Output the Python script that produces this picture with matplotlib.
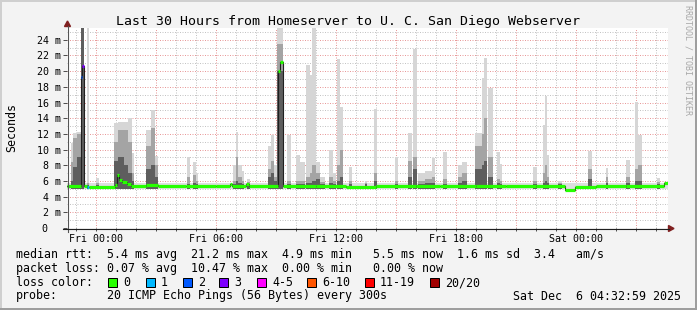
import matplotlib
matplotlib.use("Agg")
import matplotlib.pyplot as plt
import numpy as np
from matplotlib.lines import Line2D
from matplotlib.patches import Rectangle, Polygon
import matplotlib.transforms as mtrans

# ---------------- data (hours relative to Fri 00:00, values in ms) -------------
T_START, T_END = -1.45, 28.6
Y_MAX = 25.5

SMOKE_LO = 5.0          # lower edge of the smoke
BASE_SMOKE_HI = 5.75    # upper edge of the everyday smoke band

smoke_start_h = [-1.25, -1.15, -0.95, -0.775, -0.45, 0.0, 0.9, 1.1, 1.4, 1.6, 1.8,
                 2.5, 2.75, 2.95, 4.55, 4.85, 5.0, 6.85, 7.0, 7.075, 7.3, 7.55,
                 8.6, 8.75, 8.9, 9.05, 9.55, 10.0, 10.2, 10.5, 10.7, 10.8, 11.0,
                 11.2, 11.65, 11.85, 12.05, 12.2, 12.65, 13.45, 13.9, 14.95, 15.6,
                 15.85, 16.1, 16.45, 16.8, 17.35, 18.1, 18.3, 18.95, 19.3, 19.4,
                 19.6, 20.05, 20.2, 21.85, 22.35, 22.45, 22.55, 23.1, 24.6, 25.5,
                 26.5, 26.95, 27.1, 28.05]
smoke_end_h = [-1.15, -0.95, -0.775, -0.6, -0.35, 0.15, 1.1, 1.4, 1.6, 1.8, 1.9,
               2.75, 2.95, 3.1, 4.7, 5.0, 5.1, 7.0, 7.075, 7.3, 7.4, 7.7,
               8.75, 8.9, 9.05, 9.325, 9.75, 10.2, 10.45, 10.7, 10.8, 11.0, 11.2,
               11.45, 11.85, 12.0, 12.2, 12.35, 12.8, 13.55, 14.05, 15.1, 15.8,
               16.05, 16.45, 16.8, 16.95, 17.55, 18.3, 18.55, 19.3, 19.4, 19.55,
               19.85, 20.2, 20.3, 22.05, 22.45, 22.55, 22.65, 23.3, 24.8, 25.6,
               26.7, 27.1, 27.3, 28.2]
smoke_outer_ms = [10.8, 12.1, 12.3, 25.6, 25.6, 6.4, 13.4, 13.5, 13.5, 14.0, 9.5,
                  12.5, 15.1, 9.2, 9.1, 8.4, 7.0, 8.0, 12.3, 8.0, 7.3, 6.2,
                  10.5, 11.9, 8.0, 25.6, 11.9, 9.3, 8.4, 20.8, 19.5, 25.6, 8.4,
                  6.5, 10.0, 7.0, 21.5, 15.4, 7.8, 6.0, 15.2, 9.1, 12.1,
                  22.8, 7.0, 7.3, 8.9, 9.7, 8.0, 8.4, 12.1, 19.1, 21.7,
                  17.9, 9.7, 8.1, 7.8, 13.1, 16.8, 9.3, 6.0, 9.8, 7.7,
                  8.7, 16.1, 11.9, 6.4]
smoke_mid_ms = [8.4, 11.5, 12.0, 25.6, 5.8, 5.8, 11.0, 12.5, 12.5, 11.0, 7.0,
                10.5, 12.8, 8.0, 6.5, 6.8, 6.0, 6.0, 9.0, 6.5, 6.0, 5.9,
                7.5, 8.5, 6.5, 23.5, 6.0, 6.0, 6.0, 6.5, 7.0, 8.0, 7.0,
                5.9, 6.5, 6.0, 8.0, 10.0, 6.0, 5.8, 7.0, 6.0, 8.5,
                9.0, 6.0, 6.2, 6.5, 6.2, 6.5, 7.0, 10.5, 12.0, 14.0,
                9.0, 6.2, 6.0, 6.0, 7.0, 8.0, 6.5, 5.8, 7.5, 6.5,
                6.5, 7.5, 8.0, 5.9]
smoke_dark_ms = [6.0, 7.8, 9.0, 25.6, 5.5, 5.5, 8.5, 9.0, 8.0, 7.0, 6.0,
                 7.5, 8.0, 6.5, 5.6, 5.8, 5.6, 5.6, 6.0, 5.8, 5.6, 5.6,
                 6.5, 7.0, 6.0, 20.0, 5.6, 5.6, 5.6, 5.8, 5.8, 6.0, 6.3,
                 5.6, 5.8, 5.6, 6.0, 6.5, 5.6, 5.6, 6.0, 5.6, 6.5,
                 7.5, 5.6, 5.7, 5.8, 5.6, 5.8, 6.0, 7.5, 8.0, 8.5,
                 6.5, 5.7, 5.6, 5.6, 5.8, 6.0, 5.8, 5.6, 6.2, 5.8,
                 5.8, 6.0, 6.0, 5.6]

median_start_h = [-1.45, -0.775, -0.683, -0.6, -0.45, -0.367, 0.95, 1.05, 1.15,
                  1.3, 1.55, 1.75, 2.5, 3.1, 4.5, 6.0, 6.7, 6.8, 7.5, 7.65,
                  9.083, 9.2, 9.325, 11.0, 12.5, 14.0, 16.0, 17.2, 19.0, 20.5,
                  22.0, 23.45, 23.95, 25.0, 26.5, 28.4]
median_ms = [5.3, 19.3, 20.7, 5.3, 5.2, 5.25, 5.5, 6.7, 6.1,
             5.9, 5.6, 5.3, 5.45, 5.3, 5.35, 5.3, 5.55, 5.3, 5.6, 5.3,
             20.0, 21.2, 5.3, 5.35, 5.25, 5.35, 5.3, 5.4, 5.35, 5.3,
             5.35, 4.9, 5.25, 5.3, 5.35, 5.7]
median_loss = [0, 2, 3, 0, 1, 0, 0, 0, 0,
               0, 0, 0, 0, 0, 0, 0, 0, 0, 0, 0,
               0, 0, 0, 0, 0, 0, 0, 0, 0, 0,
               0, 0, 0, 0, 0, 0]

loss_colors = ['#26ff00', '#00b8ff', '#0059ff', '#7e00ff', '#ff00ff',
               '#ff5500', '#ff0000', '#a10000']
loss_labels = ['0', '1', '2', '3', '4-5', '6-10', '11-19', '20/20']

x_tick_hours = [0, 6, 12, 18, 24]
x_tick_labels = ['Fri 00:00', 'Fri 06:00', 'Fri 12:00', 'Fri 18:00', 'Sat 00:00']
y_tick_values = [0, 2, 4, 6, 8, 10, 12, 14, 16, 18, 20, 22, 24]

title = "Last 30 Hours from Homeserver to U. C. San Diego Webserver"
legend_lines = [
    "median rtt:  5.4 ms avg  21.2 ms max  4.9 ms min   5.5 ms now  1.6 ms sd  3.4   am/s",
    "packet loss: 0.07 % avg  10.47 % max  0.00 % min   0.00 % now",
]
probe_text = "20 ICMP Echo Pings (56 Bytes) every 300s"
stamp_text = "Sat Dec  6 04:32:59 2025"

# ---------------- figure -------------------------------------------------------
W, H = 697, 310
MONO = 'DejaVu Sans Mono'
fig = plt.figure(figsize=(W / 100, H / 100), dpi=100)
fig.patch.set_facecolor('#f3f3f3')


def fx(px):
    return px / W


def fy(py):
    return 1 - py / H


AX_L, AX_R, AX_T, AX_B = 67, 668, 28, 228
ax = fig.add_axes([fx(AX_L), fy(AX_B), fx(AX_R) - fx(AX_L), fy(AX_T) - fy(AX_B)])
ax.set_facecolor('white')
ax.set_xlim(T_START, T_END)
ax.set_ylim(0, Y_MAX)
for s in ax.spines.values():
    s.set_visible(False)

# grid
dot = (0, (1, 1.5))
for h in range(-1, 29):
    if h % 3 == 0:
        ax.axvline(h, color='#e89a9a', lw=0.72, ls=dot, zorder=0.5)
    else:
        ax.axvline(h, color='#c4c4c4', lw=0.72, ls=dot, zorder=0.5)
for v in range(1, 26):
    if v % 2 == 0:
        ax.axhline(v, color='#e89a9a', lw=0.72, ls=dot, zorder=0.5)
    else:
        ax.axhline(v, color='#c4c4c4', lw=0.72, ls=dot, zorder=0.5)

# everyday smoke band
ax.fill_between([T_START, T_END], SMOKE_LO, BASE_SMOKE_HI, color='#dedede',
                lw=0, zorder=1)

# smoke events
st = np.array(smoke_start_h)
en = np.array(smoke_end_h)
wd = en - st
ax.bar(st, np.array(smoke_outer_ms) - SMOKE_LO, bottom=SMOKE_LO, width=wd,
       align='edge', color='#d6d6d6', lw=0, zorder=1.2)
ax.bar(st, np.array(smoke_mid_ms) - SMOKE_LO, bottom=SMOKE_LO, width=wd,
       align='edge', color='#a4a4a4', lw=0, zorder=1.3)
ax.bar(st, np.array(smoke_dark_ms) - SMOKE_LO, bottom=SMOKE_LO, width=wd,
       align='edge', color='#5e5e5e', lw=0, zorder=1.4)

# median line
ms_ = np.array(median_start_h)
me_ = np.append(ms_[1:], T_END)
mv = np.array(median_ms)
ax.step(np.append(ms_, T_END), np.append(mv, mv[-1]), where='post',
        color='#202020', lw=0.8, zorder=4)
ax.hlines(mv, ms_, me_, colors=[loss_colors[l] for l in median_loss],
          lw=2.3, zorder=5, capstyle='butt')

# ticks
ax.set_xticks(np.arange(-1, 29, 1))
ax.set_yticks(y_tick_values)
ax.tick_params(axis='x', direction='out', length=2.2, width=0.72,
               color='#505050', labelbottom=False)
ax.tick_params(axis='y', direction='out', length=2.9, width=0.72,
               color='#505050', labelleft=False)

# tick labels
xtr = mtrans.blended_transform_factory(ax.transData, fig.transFigure)
for h, lab in zip(x_tick_hours, x_tick_labels):
    ax.text(h, fy(241.5), lab, transform=xtr, ha='center', va='baseline',
            fontsize=7.2, family=MONO)
ytr = mtrans.blended_transform_factory(fig.transFigure, ax.transData)
for v in y_tick_values:
    if v == 0:
        ax.text(fx(47.5), v, "0", transform=ytr, ha='right', va='center_baseline',
                fontsize=7.2, family=MONO)
    else:
        ax.text(fx(60.5), v, f"{v} m", transform=ytr, ha='right',
                va='center_baseline', fontsize=7.2, family=MONO)

# axis lines and arrows
fig.add_artist(Line2D([fx(67.5), fx(67.5)], [fy(231.5), fy(26)], color='#555555',
                      lw=0.8, transform=fig.transFigure))
fig.add_artist(Line2D([fx(63), fx(669)], [fy(228.5), fy(228.5)], color='#1f1f1f',
                      lw=0.8, transform=fig.transFigure))
fig.add_artist(Polygon([[fx(668.5), fy(225.5)], [fx(674), fy(228.5)], [fx(668.5), fy(231.5)]],
                       closed=True, color='#801f1f', transform=fig.transFigure))
fig.add_artist(Polygon([[fx(64.5), fy(26.5)], [fx(67.5), fy(21)], [fx(70.5), fy(26.5)]],
                       closed=True, color='#801f1f', transform=fig.transFigure))

# texts
fig.text(fx(348), fy(24.5), title, ha='center', va='baseline', fontsize=9.55,
         family=MONO)
fig.text(fx(12), fy(128), "Seconds", rotation=90, ha='center', va='center',
         fontsize=8.4, family=MONO)
fig.text(fx(688), fy(5), "RRDTOOL / TOBI OETIKER", rotation=270, ha='center',
         va='top', fontsize=6.0, family=MONO, color='#a8a8a8')

fig.text(fx(16), fy(258), legend_lines[0], ha='left', va='baseline', fontsize=8.4,
         family=MONO)
fig.text(fx(16), fy(272), legend_lines[1], ha='left', va='baseline', fontsize=8.4,
         family=MONO)
fig.text(fx(16), fy(286), "loss color:", ha='left', va='baseline', fontsize=8.4,
         family=MONO)
box_x = [108, 146, 183, 219, 257, 307, 365, 430]
for bx, col, lab in zip(box_x, loss_colors, loss_labels):
    fig.add_artist(Rectangle((fx(bx), fy(286.5)), fx(8.5), 8.5 / H, facecolor=col,
                             edgecolor='black', lw=0.72, transform=fig.transFigure))
    fig.text(fx(bx + 15), fy(286), lab, ha='left', va='baseline', fontsize=8.4,
             family=MONO)
fig.text(fx(16), fy(299.5), "probe:", ha='left', va='baseline', fontsize=8.4,
         family=MONO)
fig.text(fx(107), fy(299.5), probe_text, ha='left', va='baseline', fontsize=8.4,
         family=MONO)
fig.text(fx(681), fy(299.5), stamp_text, ha='right', va='baseline', fontsize=8.4,
         family=MONO)

# 3D frame
fig.add_artist(Rectangle((0, fy(2)), 1, 2 / H, color='#cfcfcf', lw=0,
                         transform=fig.transFigure))
fig.add_artist(Rectangle((0, 0), fx(2), 1, color='#cfcfcf', lw=0,
                         transform=fig.transFigure))
fig.add_artist(Rectangle((0, 0), 1, 2 / H, color='#9e9e9e', lw=0,
                         transform=fig.transFigure))
fig.add_artist(Rectangle((fx(695), 0), fx(2), 1, color='#9e9e9e', lw=0,
                         transform=fig.transFigure))

fig.savefig('out.png', dpi=100, facecolor=fig.get_facecolor())
